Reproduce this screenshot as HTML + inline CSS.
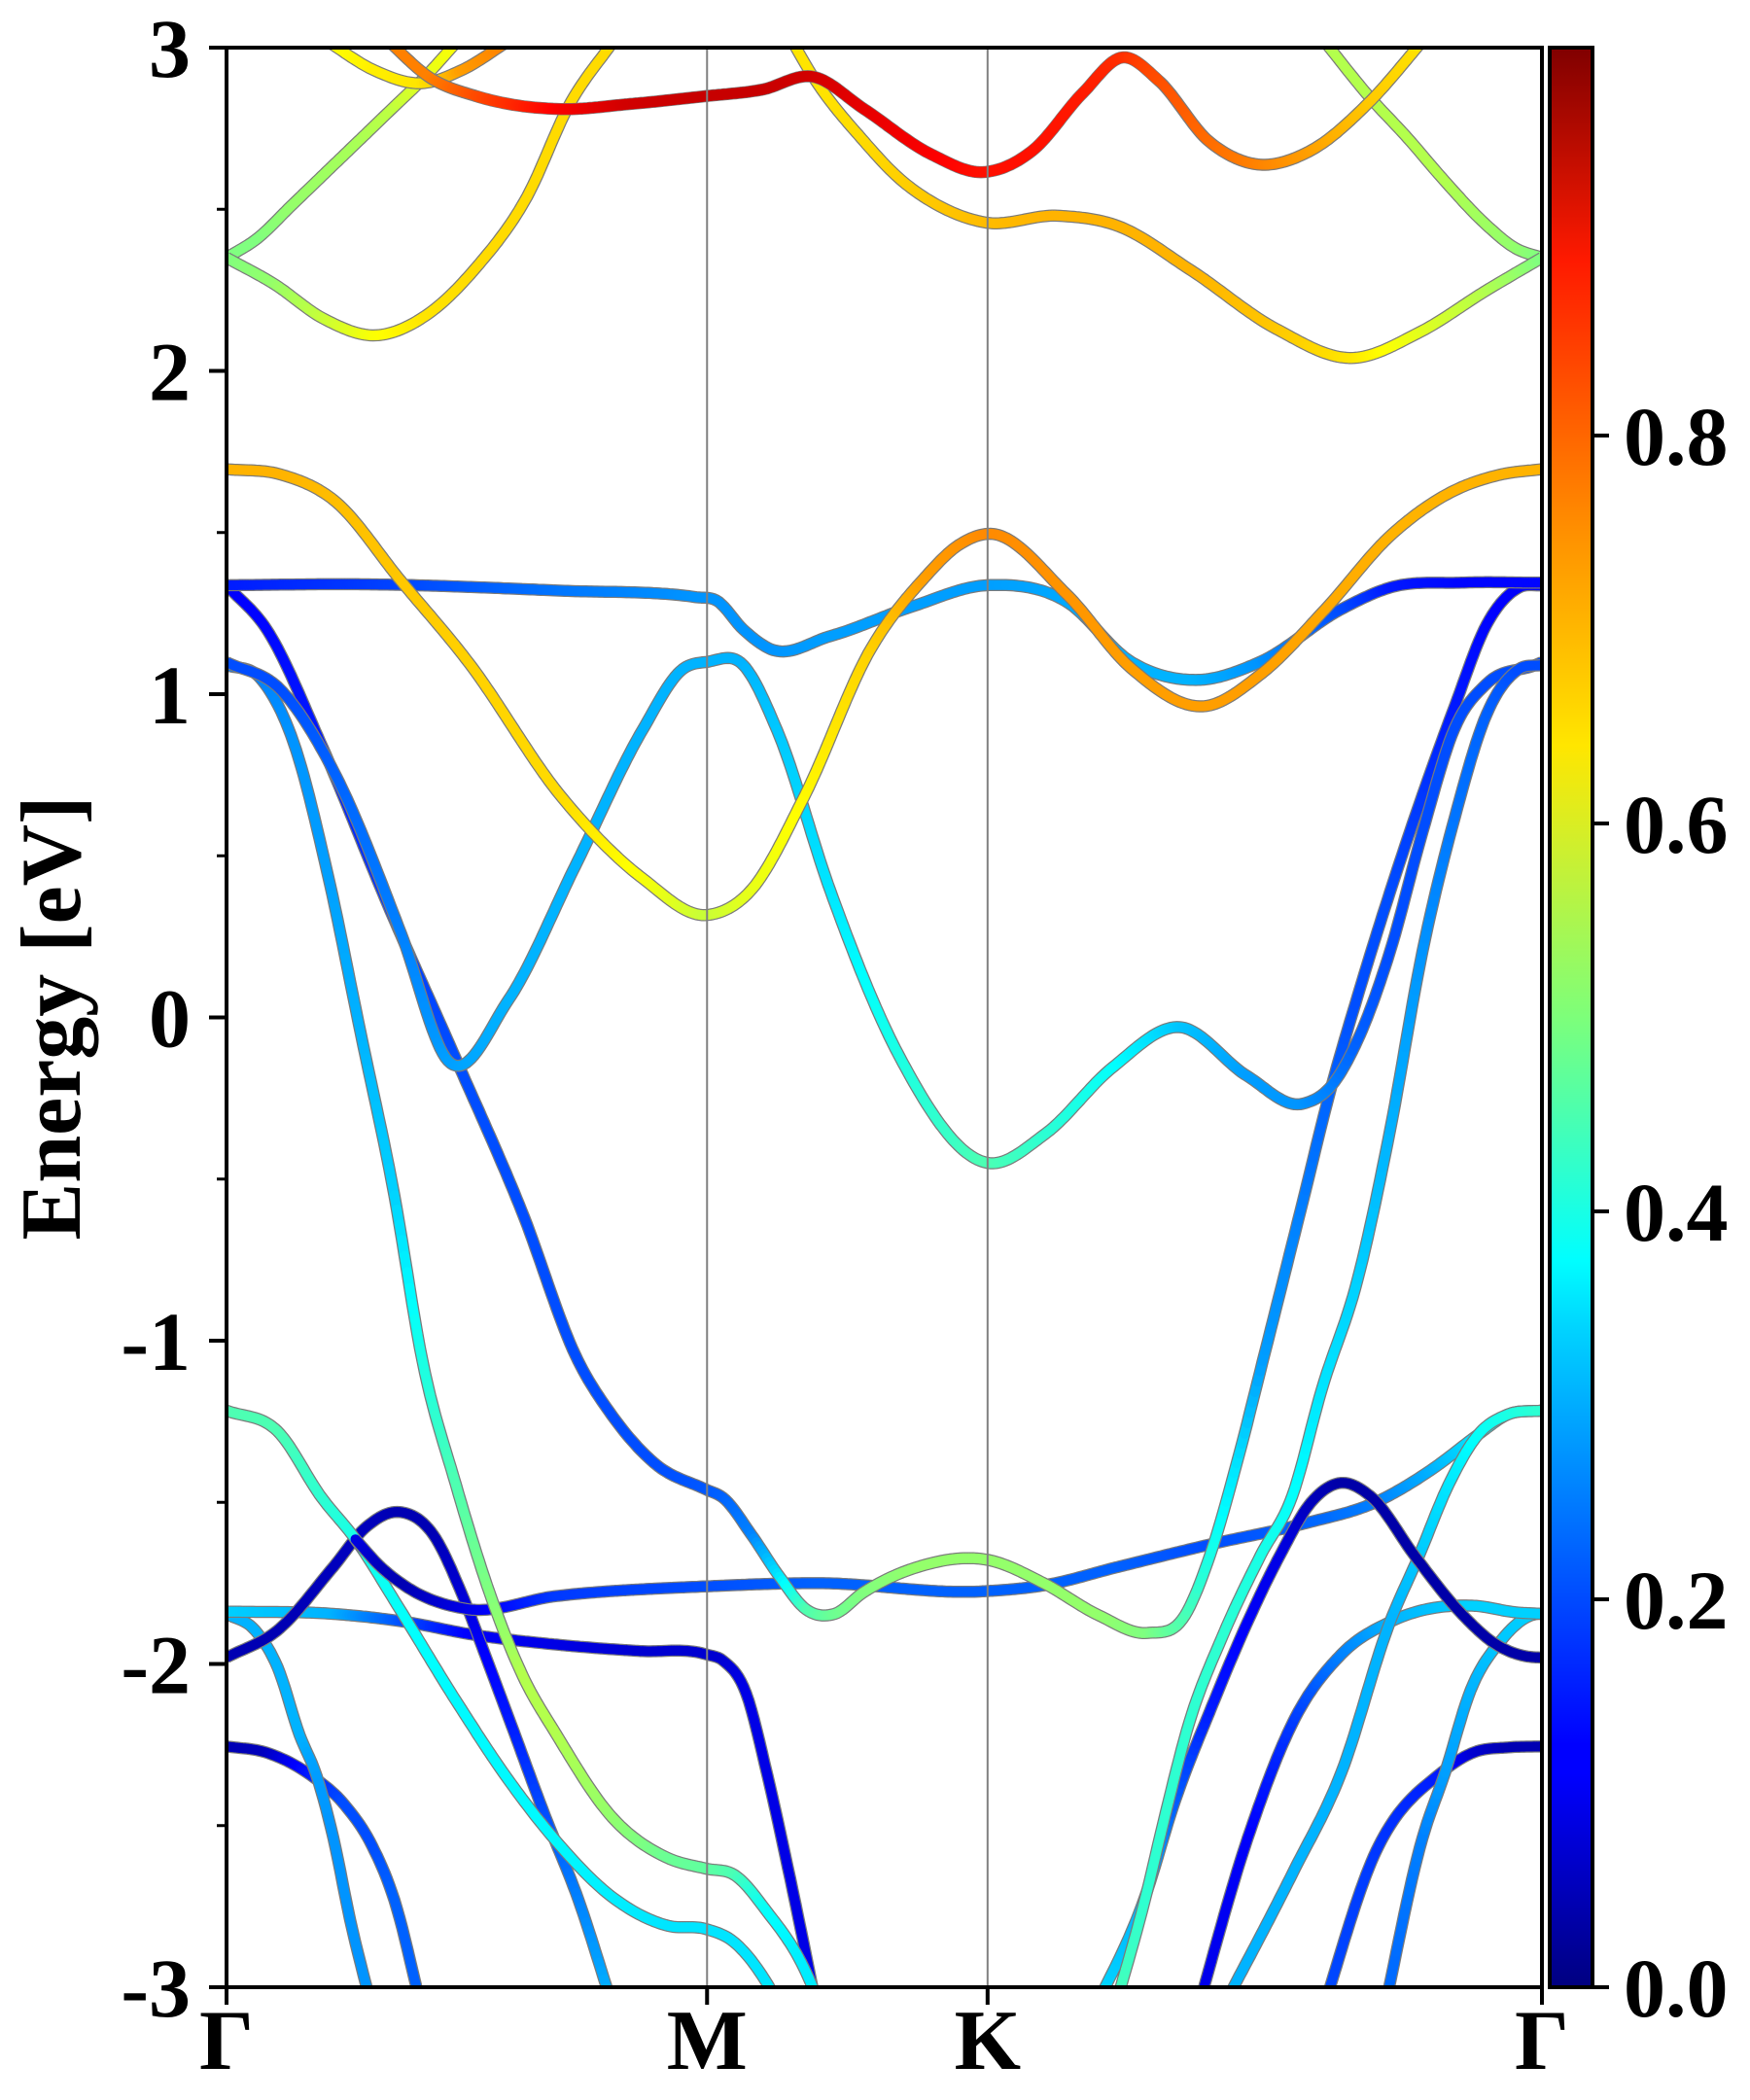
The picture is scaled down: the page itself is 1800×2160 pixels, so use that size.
<!DOCTYPE html>
<html><head><meta charset="utf-8"><title>Band structure</title>
<style>html,body{margin:0;padding:0;background:#fff}svg{display:block}text{font-family:"Liberation Serif",serif;font-weight:bold;fill:#000}</style>
</head><body>
<svg id="chart" width="1800" height="2160" viewBox="0 0 1800 2160" xmlns="http://www.w3.org/2000/svg">
<defs>
<clipPath id="plotclip"><rect x="233" y="49" width="1353" height="1995"/></clipPath>
<linearGradient id="jet" x1="0" y1="1" x2="0" y2="0">
<stop offset="0" stop-color="#000080"/><stop offset="0.11" stop-color="#0000ff"/><stop offset="0.125" stop-color="#0000ff"/>
<stop offset="0.34" stop-color="#00d4ff"/><stop offset="0.375" stop-color="#00ffff"/><stop offset="0.5" stop-color="#7dff7a"/>
<stop offset="0.64" stop-color="#ffe600"/><stop offset="0.75" stop-color="#ff9000"/><stop offset="0.89" stop-color="#ff1a00"/><stop offset="1" stop-color="#800000"/>
</linearGradient>
</defs>
<g id="bands" clip-path="url(#plotclip)"></g>
<g id="axes"></g>
<g id="cbar"></g>
</svg>
<script>
// ---- chart data: each band = list of [k (path distance), energy eV, weight] ----
const kLabels = ["Γ", "M", "K", "Γ"];
const kTicks = [0, 358, 567, 980];
const eTicks = [-3, -2, -1, 0, 1, 2, 3];
const eMinorTicks = [-2.5, -1.5, -0.5, 0.5, 1.5, 2.5];
const cbTicks = [0.0, 0.2, 0.4, 0.6, 0.8];
const cbTickLabels = ["0.0", "0.2", "0.4", "0.6", "0.8"];

const bandT1 = [[0,2.35,.5],[23,2.41,.5],[48,2.51,.52],[73,2.61,.53],[98,2.71,.54],[123,2.81,.56],[148,2.91,.6],[172,3.02,.62]];
const bandT2 = [[75,3.02,.62],[110,2.93,.64],[145,2.89,.65],[175,2.93,.72],[210,3.02,.75]];
const bandT3 = [[118,3.03,.75],[152,2.906,.75],[186,2.85,.8],[249,2.81,.88],[299,2.825,.92],[357,2.85,.93],[399,2.87,.93],[437,2.91,.92],[475,2.81,.9],[525,2.67,.88],[564,2.615,.86],[600,2.68,.86],[638,2.86,.85],[668,2.97,.83],[694,2.90,.8],[732,2.71,.77],[766,2.64,.75],[807,2.68,.72],[851,2.83,.68],[893,3.03,.65]];
const bandT4 = [[0,2.35,.5],[35,2.27,.52],[73,2.16,.57],[111,2.11,.62],[148,2.17,.65],[186,2.32,.66],[224,2.54,.66],[255,2.82,.66],[290,3.03,.66]];
const bandT5 = [[420,3.03,.65],[437,2.91,.65],[475,2.71,.66],[500,2.60,.67],[531,2.51,.68],[564,2.46,.69],[619,2.48,.7],[663,2.45,.7],[719,2.31,.7],[782,2.13,.68],[838,2.04,.65],[889,2.12,.6],[939,2.25,.55],[980,2.35,.5]];
const bandT6 = [[816,3.03,.55],[851,2.85,.55],[880,2.72,.55],[907,2.59,.55],[939,2.45,.53],[960,2.38,.52],[980,2.35,.5]];
const bandA = [[0,1.696,.7],[40,1.68,.7],[80,1.6,.69],[130,1.35,.68],[180,1.1,.67],[250,0.68,.66],[310,0.43,.62],[358,0.317,.57],[390,0.39,.6],[430,0.68,.63],[480,1.14,.67],[520,1.36,.72],[545,1.46,.73],[567,1.496,.74],[625.7,1.31,.73],[674,1.08,.72],[729,0.963,.72],[770,1.06,.72],[818.6,1.263,.71],[867,1.49,.7],[910,1.62,.7],[950,1.68,.7],[980,1.696,.7]];
const bandB = [[0,1.337,.15],[100,1.34,.18],[250,1.32,.24],[350,1.30,.27],[365,1.29,.27],[385,1.2,.27],[405,1.14,.27],[450,1.18,.28],[510,1.27,.28],[567,1.337,.28],[625.7,1.286,.29],[674,1.10,.3],[722,1.044,.3],[770,1.10,.27],[830.6,1.263,.2],[867,1.33,.15],[920,1.345,.13],[980,1.345,.13]];
const bandC = [[0,1.099,.2],[40,1.015,.2],[80,0.76,.22],[130,0.26,.25],[165,-0.134,.28],[210,0.054,.3],[260,0.47,.3],[310,0.89,.3],[340,1.078,.3],[358,1.1,.3],[385,1.09,.3],[410,0.89,.32],[450,0.39,.35],[500,-0.11,.4],[567,-0.45,.45],[610,-0.36,.42],[660,-0.155,.38],[710,-0.03,.32],[760,-0.18,.28],[801.7,-0.267,.27],[823.4,-0.21,.25],[842.7,-0.07,.22],[866.8,0.204,.2],[891,0.573,.2],[915,0.895,.2],[939,1.033,.2],[975,1.09,.2],[980,1.099,.2]];
const bandD = [[0,1.337,.12],[30,1.2,.13],[70,0.85,.15],[120,0.35,.18],[170,-0.12,.2],[220,-0.6,.2],[262,-1.063,.2],[287,-1.23,.2],[320,-1.383,.2],[357,-1.46,.21],[370,-1.486,.22],[391,-1.6,.25],[412,-1.73,.35],[432,-1.832,.45],[453,-1.845,.48],[474,-1.78,.5],[515,-1.70,.52],[567,-1.678,.52],[608.7,-1.75,.52],[650,-1.85,.52],[686,-1.904,.5],[714,-1.85,.45],[733,-1.66,.4],[752.6,-1.38,.35],[772,-1.063,.28],[800,-0.6,.25],[823.4,-0.21,.22],[842.7,0.066,.2],[866.8,0.388,.2],[891,0.688,.18],[915,0.963,.15],[939,1.217,.13],[963,1.33,.12],[980,1.337,.12]];
const bandE = [[0,1.09,.25],[25,1.05,.25],[50,0.85,.27],[75,0.45,.28],[100,-0.05,.3],[125,-0.55,.33],[146,-1.063,.4],[171,-1.447,.45],[196,-1.78,.5],[220.7,-2.037,.55],[245.6,-2.217,.55],[287,-2.473,.52],[328.6,-2.6,.48],[357,-2.633,.47],[378.5,-2.653,.45],[403,-2.768,.38],[428,-2.922,.36],[445,-3.08,.35]];
const bandZ1 = [[0,-1.216,.45],[38,-1.28,.45],[71,-1.486,.42],[96,-1.614,.4],[129,-1.83,.38],[171,-2.114,.37],[212,-2.37,.37],[246,-2.55,.37],[287,-2.72,.36],[329,-2.81,.35],[357,-2.82,.35],[378,-2.86,.35],[403,-2.99,.35],[415,-3.08,.35]];
const bandZ1b = [[96,-1.614,.1],[115,-1.7,.06],[133.5,-1.76,.05],[179,-1.83,.1],[245.6,-1.79,.18],[357,-1.76,.2],[440.8,-1.75,.22],[565,-1.775,.22],[608.7,-1.757,.22],[664,-1.70,.22],[733,-1.63,.2],[802.5,-1.566,.22],[858,-1.496,.25],[899.4,-1.394,.3],[932.6,-1.29,.35],[954.7,-1.228,.4],[980,-1.216,.45]];
const bandZ2 = [[0,-1.98,.05],[38,-1.896,.05],[79.5,-1.70,.06],[104.4,-1.575,.06],[129,-1.53,.05],[154,-1.60,.05],[175,-1.78,.08],[191.6,-1.96,.12],[212.3,-2.19,.15],[237.3,-2.47,.2],[262.2,-2.73,.25],[287,-3.05,.3]];
const bandZ4 = [[0,-1.838,.33],[79.5,-1.845,.3],[133.5,-1.87,.2],[183,-1.909,.12],[245.6,-1.94,.1],[308,-1.96,.08],[357,-1.97,.08],[370,-1.99,.08],[387,-2.09,.1],[403,-2.345,.1],[420,-2.665,.1],[440,-3.07,.1]];
const bandZ5 = [[0,-1.845,.3],[21.3,-1.896,.3],[38,-2.01,.3],[54.5,-2.22,.3],[67,-2.345,.28],[79.5,-2.537,.27],[92,-2.79,.27],[108,-3.06,.27]];
const bandZ6 = [[0,-2.255,.05],[29.6,-2.274,.06],[63,-2.345,.15],[87.8,-2.435,.2],[108.5,-2.563,.2],[125,-2.73,.22],[145,-3.06,.22]];
const bandP = [[640,-3.125,.35],[686,-2.70,.3],[705.3,-2.44,.22],[734.2,-2.13,.15],[760.7,-1.87,.12],[784.8,-1.664,.1],[808,-1.50,.06],[830,-1.44,.04],[852,-1.48,.04],[886,-1.67,.04],[919,-1.84,.04],[946,-1.94,.04],[977,-1.98,.04],[980,-1.98,.04]];
const bandQ = [[658,-3.12,.45],[686,-2.70,.42],[698,-2.49,.42],[717.3,-2.18,.42],[741.4,-1.92,.42],[770.4,-1.664,.4],[794,-1.48,.38],[816,-1.15,.35],[842.7,-0.81,.33],[866.8,-0.35,.3],[891,0.204,.27],[915,0.618,.24],[939,0.94,.22],[963,1.078,.2],[980,1.09,.2]];
const bandR = [[720,-3.12,.1],[760.7,-2.54,.12],[794.5,-2.18,.18],[830.6,-1.97,.25],[866.8,-1.87,.3],[929.5,-1.82,.33],[960,-1.84,.33],[980,-1.845,.33]];
const bandS = [[735,-3.12,.3],[794.5,-2.645,.3],[830.6,-2.335,.3],[866.8,-1.87,.3],[888.5,-1.664,.32],[910.5,-1.445,.35],[932.6,-1.29,.38],[954.7,-1.228,.4],[980,-1.216,.42]];
const bandT = [[813,-3.12,.2],[854.8,-2.594,.18],[905.4,-2.335,.15],[929.5,-2.273,.08],[955,-2.258,.05],[980,-2.255,.05]];
const bandU = [[860,-3.12,.22],[890.9,-2.54,.25],[907.7,-2.337,.28],[927,-2.08,.3],[949,-1.93,.32],[977,-1.845,.33],[980,-1.845,.33]];

const bandList = [bandT1,bandT2,bandT4,bandT6,bandT5,bandT3,bandZ6,bandZ5,bandZ4,bandZ2,bandZ1,bandZ1b,bandE,bandD,bandC,bandB,bandA,bandT,bandU,bandR,bandS,bandP,bandQ];
const bandNames = ["band-t1","band-t2","band-t4","band-t6","band-t5","band-t3","band-z6","band-z5","band-z4","band-z2","band-z1","band-z1b","band-e","band-d","band-c","band-b","band-a","band-t","band-u","band-r","band-s","band-p","band-q"];

// ---- scales ----
const X0 = 233, X1 = 1586, Y0 = 49, Y1 = 2044;
const KMAX = 980, EMIN = -3, EMAX = 3;
function xs(k){ return X0 + k * (X1 - X0) / KMAX; }
function ys(e){ return Y1 - (e - EMIN) * (Y1 - Y0) / (EMAX - EMIN); }
function jet(v){
  const c = Math.max(0, Math.min(1, v));
  const f = t => Math.round(255 * Math.max(0, Math.min(1, t)));
  return "rgb(" + f(1.5 - Math.abs(4*c - 3)) + "," + f(1.5 - Math.abs(4*c - 2)) + "," + f(1.5 - Math.abs(4*c - 1)) + ")";
}
const NS = "http://www.w3.org/2000/svg";
function mk(tag, attrs, parent){
  const el = document.createElementNS(NS, tag);
  for (const a in attrs) el.setAttribute(a, attrs[a]);
  parent.appendChild(el);
  return el;
}

// ---- bands (cubic Hermite in k) ----
const gB = document.getElementById("bands");
bandList.forEach(function(band, bi){
  const n = band.length;
  const m = band.map(function(p, i){
    if (i === 0) return (band[1][1] - p[1]) / (band[1][0] - p[0]);
    if (i === n-1) return (p[1] - band[n-2][1]) / (p[0] - band[n-2][0]);
    const h0 = p[0] - band[i-1][0], h1 = band[i+1][0] - p[0];
    const d0 = (p[1] - band[i-1][1]) / h0, d1 = (band[i+1][1] - p[1]) / h1;
    return (d0 * h1 + d1 * h0) / (h0 + h1);
  });
  const samp = [];
  for (let i = 0; i < n - 1; i++){
    const a = band[i], b = band[i+1], h = b[0] - a[0];
    const N = Math.max(2, Math.ceil(h / 2));
    for (let j = 0; j < N; j++){
      const t = j / N, t2 = t*t, t3 = t2*t;
      const e = (2*t3-3*t2+1)*a[1] + (t3-2*t2+t)*h*m[i] + (-2*t3+3*t2)*b[1] + (t3-t2)*h*m[i+1];
      samp.push([xs(a[0] + t*h), ys(e), a[2] + (b[2]-a[2])*t]);
    }
  }
  const last = band[n-1];
  samp.push([xs(last[0]), ys(last[1]), last[2]]);
  const g = mk("g", {}, gB);
  
  
  const d = samp.map((s, i) => (i ? "L" : "M") + s[0].toFixed(1) + " " + s[1].toFixed(1)).join("");
  mk("path", {d: d, fill: "none", stroke: "#7a7a7a", "stroke-width": 12.5, "stroke-linejoin": "round"}, g);
  for (let i = 0; i < samp.length - 1; i++){
    const a = samp[i], b = samp[i+1];
    const w = (a[2]+b[2])/2;
    mk("line", {x1: a[0].toFixed(1), y1: a[1].toFixed(1), x2: b[0].toFixed(1), y2: b[1].toFixed(1),
      stroke: jet(w), "stroke-width": (w > 0.8 ? 11 : 10), "stroke-linecap": "round"}, g);
  }
});

// ---- axes ----
const gA = document.getElementById("axes");
kTicks.forEach(function(k, i){
  if (i > 0 && i < kTicks.length - 1){
    const vl = mk("line", {x1: xs(k), y1: Y0, x2: xs(k), y2: Y1, stroke: "#808080", "stroke-width": 2}, gA);
    
    
  }
  const tk = mk("line", {x1: xs(k), y1: Y1, x2: xs(k), y2: Y1 + 18, stroke: "#000", "stroke-width": 4}, gA);
  
  
  const tl = mk("text", {x: xs(k), y: 2128, "text-anchor": "middle", "font-size": 88}, gA);
  tl.textContent = kLabels[i];
  
  
});
eTicks.forEach(function(e){
  const tk = mk("line", {x1: X0 - 18, y1: ys(e), x2: X0, y2: ys(e), stroke: "#000", "stroke-width": 4}, gA);
  
  
  const tl = mk("text", {x: 196, y: ys(e) + 30, "text-anchor": "end", "font-size": 86}, gA);
  tl.textContent = String(e);
  
  
});
eMinorTicks.forEach(function(e){
  const tk = mk("line", {x1: X0 - 10, y1: ys(e), x2: X0, y2: ys(e), stroke: "#000", "stroke-width": 3}, gA);
  
  
});
const frame = mk("rect", {x: X0, y: Y0, width: X1 - X0, height: Y1 - Y0, fill: "none", stroke: "#000", "stroke-width": 4}, gA);


const yl = mk("text", {x: 0, y: 0, "text-anchor": "middle", "font-size": 88, transform: "translate(82,1047) rotate(-90)"}, gA);
yl.textContent = "Energy [eV]";



// ---- colorbar ----
const gC = document.getElementById("cbar");
const CB0 = 1594, CB1 = 1638;
const cbr = mk("rect", {x: CB0, y: Y0, width: CB1 - CB0, height: Y1 - Y0, fill: "url(#jet)", stroke: "#000", "stroke-width": 4}, gC);


cbTicks.forEach(function(v, i){
  const y = Y1 - v * (Y1 - Y0);
  const tk = mk("line", {x1: CB1, y1: y, x2: CB1 + 17, y2: y, stroke: "#000", "stroke-width": 4}, gC);
  
  
  const tl = mk("text", {x: 1670, y: y + 30, "text-anchor": "start", "font-size": 86}, gC);
  tl.textContent = cbTickLabels[i];
  
  
});
</script>
</body></html>
